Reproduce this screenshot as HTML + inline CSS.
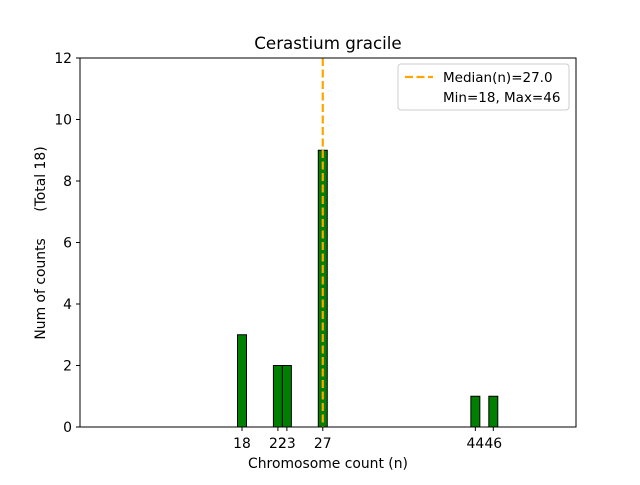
<!DOCTYPE html>
<html><head><meta charset="utf-8"><style>
body{margin:0;background:#fff;}
svg text{font-family:"DejaVu Sans","Liberation Sans",sans-serif;fill:#000;}
</style></head><body>
<svg id="chart" width="640" height="480" xmlns="http://www.w3.org/2000/svg">
<rect width="640" height="480" fill="#fff"/>
<text x="328" y="49" font-size="16.7" text-anchor="middle">Cerastium gracile</text>
<g id="bars"></g>
<line id="med" y1="58" y2="427" stroke="#ffa500" stroke-width="2.2" stroke-dasharray="8,3.5"/>
<rect x="80" y="58" width="496" height="369" fill="none" stroke="#000" stroke-width="1"/>
<g id="yticks"></g><g id="xticks"></g>
<text x="328" y="468" font-size="13.9" text-anchor="middle">Chromosome count (n)</text>
<text transform="translate(45,243) rotate(-90)" font-size="13.9" text-anchor="middle" style="white-space:pre" xml:space="preserve">Num of counts      (Total 18)</text>
<g>
<rect x="398" y="64" width="171" height="46" rx="3" fill="#fff" stroke="#ccc"/>
<line x1="405" y1="77" x2="433" y2="77" stroke="#ffa500" stroke-width="2.2" stroke-dasharray="8,3.5"/>
<text x="443" y="82" font-size="13.5">Median(n)=27.0</text>
<text x="443" y="102" font-size="13.5">Min=18, Max=46</text>
</g>
</svg>
<script>
const counts=[18,22,23,27,44,46];
const freqs=[3,2,2,9,1,1];
const yTicks=[0,2,4,6,8,10,12];
const medianVal=27.0;
const ns="http://www.w3.org/2000/svg";
const X=v=>242+(v-18)*8.975, Y=v=>427-v*30.75, W=8.975;
const mk=(t,a,p)=>{const e=document.createElementNS(ns,t);for(const k in a)e.setAttribute(k,a[k]);p.appendChild(e);return e;};
const bars=document.getElementById('bars');
const base=mk('line',{x1:80,x2:X(49)+W/2,y1:427,y2:427,stroke:'#000'},bars);


counts.forEach((c,i)=>{
 const r=mk('rect',{x:X(c)-W/2,y:Y(freqs[i]),width:W,height:freqs[i]*30.75,fill:'#008000',stroke:'#000','stroke-width':1},bars);
 
 
});
const med=document.getElementById('med');med.setAttribute('x1',X(medianVal));med.setAttribute('x2',X(medianVal));
const yt=document.getElementById('yticks');
yTicks.forEach(v=>{
 mk('line',{x1:76,x2:80,y1:Y(v),y2:Y(v),stroke:'#000'},yt);
 const t=mk('text',{x:72,y:Y(v)+5,'font-size':13.9,'text-anchor':'end'},yt);t.textContent=v;
 
 
});
const xt=document.getElementById('xticks');
counts.forEach(v=>{
 mk('line',{x1:X(v),x2:X(v),y1:427,y2:431,stroke:'#000'},xt);
 const t=mk('text',{x:X(v),y:448,'font-size':13.9,'text-anchor':'middle'},xt);t.textContent=v;
 
 
});
</script>
</body></html>
